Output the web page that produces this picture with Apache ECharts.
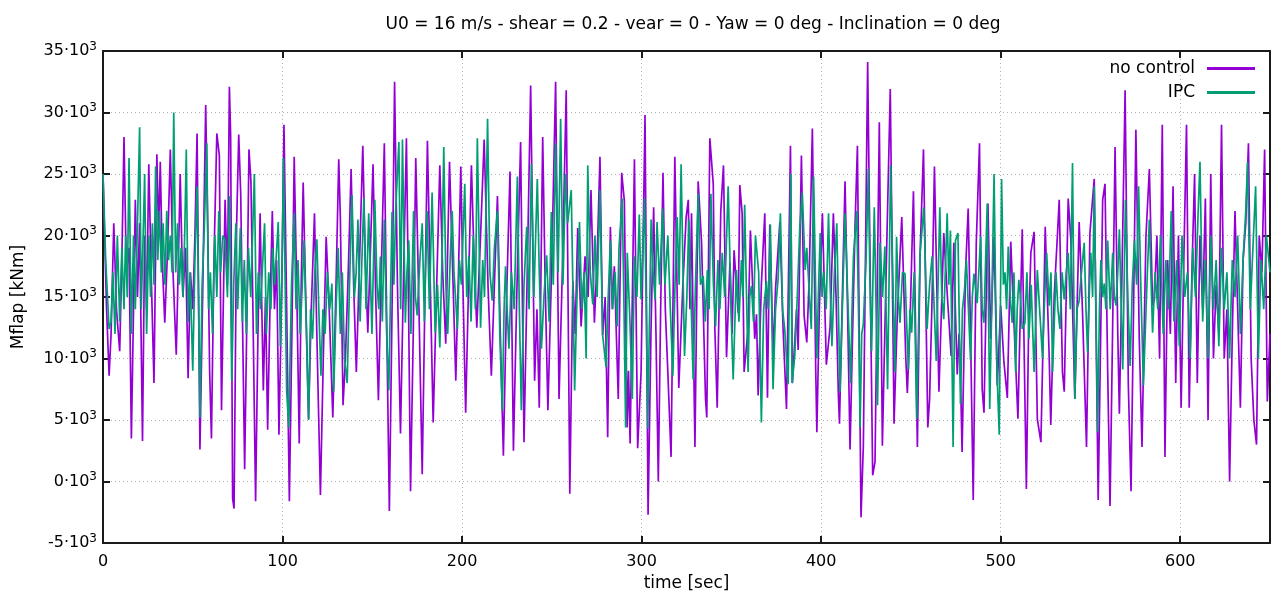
<!DOCTYPE html>
<html>
<head>
<meta charset="utf-8">
<script src="https://cdn.jsdelivr.net/npm/echarts@6/dist/echarts.min.js"></script>
<style>html,body{margin:0;padding:0;background:#fff;}#chart{width:1273px;height:599px;}</style>
</head>
<body>
<div id="chart"></div>
<script>
// [time (sec), Mflap (kNm)]
const noControl = [[0,25000],[2,14000],[3.4,8600],[4.5,12000],[6,21000],[7.5,14000],[9.3,10600],[10.5,18000],[11.7,28000],[13,17000],[14.5,19000],[15.8,3500],[17,14000],[18,22900],[19.2,15000],[20.4,21000],[22,3300],[23.2,20000],[24.3,14000],[25.5,25800],[27,16000],[28.4,8000],[30,26600],[31,20000],[31.9,26000],[33,18000],[34.4,12900],[36,19000],[37.5,27000],[39,17000],[40.8,10300],[42,18000],[43,25000],[44.5,15000],[46,19000],[47.4,8400],[48.7,17000],[50,14000],[51.2,20000],[52.4,28300],[54,2600],[55.5,15000],[57.2,30600],[58.4,20000],[59.4,8900],[60.4,3500],[61.8,18000],[63.4,28300],[64.8,26500],[66,5800],[68,22900],[69.3,16000],[70.4,32100],[71.1,28100],[72.2,-1400],[73,-2200],[74.4,20700],[75.6,28200],[76.7,23400],[78.9,1000],[80.2,14000],[81.3,27000],[82.4,24400],[83.5,14000],[85,-1600],[86.3,12000],[87.5,21800],[89.3,7400],[90.5,15000],[91.7,4200],[93,14000],[94.3,22000],[95.5,14000],[96.7,18000],[98,3800],[99.5,15000],[100.8,29000],[102.3,14000],[103.8,-1600],[105.2,12000],[106.5,26400],[108,15000],[109.3,3100],[110.4,16000],[111.5,24300],[112.6,17000],[114.5,5100],[116,14000],[117.8,21800],[119.1,12000],[121.1,-1100],[122.7,10000],[124.3,19900],[126,14000],[128,5200],[129.8,16000],[131.3,26200],[132.2,21500],[133.7,6200],[135,9900],[136.6,17000],[138.2,25400],[139.6,16000],[141.1,8900],[142.9,18000],[144.7,27300],[146.1,18000],[147.5,12100],[149,19000],[150.4,25800],[151.9,15000],[153.4,6600],[155,17000],[156.7,27500],[158.1,12000],[159.5,-2400],[161,14000],[162.4,32500],[164,16000],[165.7,3900],[167.3,16000],[169,27900],[170.2,14000],[171.3,-800],[172.8,12000],[174.2,26300],[176,14000],[177.8,600],[179.2,14000],[180.7,27700],[182.3,16000],[183.9,4800],[185.7,15000],[187.6,25700],[189.2,17000],[190.9,11200],[193,26000],[195,16000],[196.5,8200],[198,17000],[199.3,25600],[200.6,15000],[202,5600],[203.6,16000],[205.2,25700],[206.7,18000],[208.2,12500],[210.3,20000],[212.3,27800],[214.5,15700],[216.3,8600],[218,16000],[219.7,23200],[221.3,12000],[223,2100],[224.8,15000],[226.7,25200],[228.6,2500],[230.6,16000],[232.6,27600],[234.5,3200],[236.3,17000],[238.2,32200],[240.4,8200],[241.7,14000],[243,6000],[244.9,28000],[246.3,16000],[247.8,5800],[250,18000],[252.1,32500],[254,6700],[256,18000],[258,31800],[260,-1000],[261.7,16300],[263,12000],[264.4,20600],[266.3,12600],[268.5,18300],[270.2,15000],[271.8,23700],[273.7,12900],[275.2,18000],[276.8,26400],[278.3,11900],[279.7,15000],[281.1,3600],[282.6,20700],[283.7,14000],[284.8,17500],[287,6700],[288.9,25100],[290.4,22800],[291.9,4400],[292.7,9000],[293.6,3100],[296,26200],[297.8,2700],[299.7,8900],[301.9,29800],[303.6,-2700],[305.2,12000],[306.7,22300],[308,12000],[309.3,0],[310.6,14000],[311.9,25100],[313.2,14000],[314.6,8900],[316.4,2000],[318.5,26400],[320.7,7600],[322.9,15700],[324.8,21500],[326,22900],[326.9,14000],[327.8,21800],[329.7,2800],[331.5,24400],[333.4,19400],[335.6,6700],[336.3,5200],[338,27900],[339.9,24200],[340.8,12400],[342.1,6000],[344.1,22000],[345.6,25700],[347.3,10100],[349.2,17800],[350.4,12000],[351.5,18800],[353.8,13700],[354.7,24100],[356,21800],[357.1,8900],[359.3,12400],[360.6,20400],[363,11600],[364,13600],[364.9,7000],[366.7,16000],[368.6,21800],[370.1,6800],[371.4,20900],[373.3,10200],[374.6,15700],[377,21100],[378.8,12400],[380.7,5900],[382.9,27300],[384,8000],[386.3,14000],[387.2,10700],[389,26500],[390.5,13500],[392,11300],[393.3,16300],[395.1,28700],[397,8900],[397.6,4000],[399,14000],[400.7,21800],[402.9,9500],[405,12600],[406.8,21800],[408.3,15000],[409.6,7000],[410.2,4700],[411.8,15000],[413.3,24400],[414.7,14000],[416.1,2600],[417.5,12000],[418.9,20900],[420.2,27300],[422.2,-2900],[423.5,2900],[425.9,34100],[427.8,11000],[428.7,500],[430,1600],[432.4,29200],[434.1,2900],[435.9,15100],[438.5,31900],[440.6,4700],[442.4,13400],[444.9,21500],[447.1,10200],[448,7200],[449.5,12900],[451.4,23600],[453.6,2800],[455.1,18500],[457,27000],[459.4,4400],[460.4,6700],[461.8,15000],[463.1,25600],[465.6,7300],[467,14000],[468.3,20200],[470.2,15300],[472.4,10200],[473.9,19400],[474.8,13700],[475.8,8700],[476.8,12000],[477.6,8600],[478.5,2400],[480.4,17000],[481.9,22200],[483.2,12100],[484.7,-1500],[486.4,19400],[488.2,27500],[489.7,7500],[490.7,5600],[492.9,22600],[494.4,11600],[496.3,19900],[498.1,7800],[500,14300],[501.8,9700],[503.7,6800],[505.6,19500],[507,14300],[509.6,5100],[512,20500],[514.3,-600],[515.5,12000],[516.8,18600],[518.6,20300],[520.4,5100],[522.4,3200],[523.7,12000],[524.8,20700],[527,10200],[527.9,4600],[529.8,15100],[531.7,20300],[532.6,22900],[534.4,8900],[535.4,7300],[537.6,23000],[539.1,19600],[541.3,6700],[543.7,21100],[545.6,13700],[547.8,2800],[549.7,20200],[552.1,24600],[554.3,-1500],[555.5,10000],[556.8,22900],[558.1,24200],[559.6,8900],[560.9,-2000],[562.3,12000],[563.7,27200],[565.2,12100],[566.1,5500],[567.7,18000],[569.3,31800],[571.1,7800],[572.6,-800],[574,14000],[575.3,28600],[577.2,11500],[578.7,2800],[580.9,19900],[582.8,25400],[584.6,14300],[585.6,14800],[587,20000],[588.5,10000],[590,29000],[591.5,2000],[593,18000],[594.5,12000],[596,24000],[597.5,8000],[599,20000],[600.5,6000],[602,18000],[603.5,29000],[605,6000],[606.5,17000],[608,25000],[609.5,8000],[611,20000],[612.5,14000],[614,23000],[615.5,5000],[617,25000],[618.5,10000],[620,16000],[621.5,12000],[623,29000],[624.5,10000],[626,14000],[627.5,0],[629,12000],[630.5,22000],[632,14000],[633.5,6000],[635,18000],[636.5,21000],[638,27500],[639.5,10000],[641,5000],[642.5,3000],[644,20000],[645.5,17000],[647,27000],[648.5,6500],[650,12000]];

const ipc = [[0,25000],[1.5,18000],[3.4,12400],[4.5,13000],[5.5,17000],[6.7,12000],[8,20000],[9.3,13000],[10.5,19000],[11.7,14000],[12.6,20000],[13.5,15000],[14.5,26300],[15.8,12000],[17,20000],[18,14000],[19.2,21000],[20.4,28800],[21.3,14000],[22.2,19000],[23.2,25000],[24.3,12000],[25.5,20000],[26.5,15000],[27.5,21000],[28.4,16000],[29.3,25600],[30.5,18000],[31.5,22000],[32.5,17000],[33.5,21000],[34.5,16000],[35.5,22000],[36.5,18000],[37.5,20000],[38.5,17000],[39.4,30000],[40.5,17000],[41.5,21000],[42.5,16000],[43.5,19000],[44.5,15000],[45.5,20000],[46.4,27000],[47.4,13000],[48.5,17000],[50,9000],[51.2,18000],[52.4,24000],[53.3,14000],[54,5200],[55.2,16000],[56.3,20000],[57.8,27500],[58.8,14000],[59.8,17000],[61,12000],[62.3,20000],[63.4,15000],[64.5,22000],[65.5,17000],[66.7,20000],[68,19600],[69.3,15000],[70.5,23200],[71.7,8200],[72.8,16000],[74,21000],[75,14000],[76.5,20600],[77.6,13000],[78.7,18000],[79.8,12000],[81,19000],[82.3,15000],[84.3,25000],[85.5,12000],[86.5,17000],[87.7,14000],[89,18000],[90,21000],[91,12000],[92.3,17000],[93.5,14000],[94.5,19000],[95.6,16000],[97.6,21100],[98.8,11000],[99.8,18000],[100.5,26300],[102.3,7300],[103.5,4400],[105,16000],[106.5,21800],[107.5,14000],[108.6,18000],[109.8,12000],[111,16000],[112,19600],[113.3,12000],[114.5,5000],[115.6,14000],[116.7,11600],[118,17000],[119.1,19700],[120.2,14000],[121.4,8600],[122.5,14000],[123.7,12000],[125,17000],[126.3,14000],[127.5,16100],[128.5,7300],[129.8,14000],[131,19000],[132.2,12000],[133.3,17000],[134.5,10000],[136,8000],[137.3,16000],[138.7,23300],[140,15000],[141,17000],[142,21300],[143.2,13000],[144.2,18000],[145.3,23000],[146.5,14000],[148,21800],[149.8,12000],[151.4,22900],[152.6,16000],[153.6,14000],[154.5,18300],[155.6,13000],[156.7,21300],[158,12000],[159.2,7400],[160,14000],[161,21900],[162,16000],[163,22000],[164.8,27600],[165.8,14000],[166.8,27800],[168.4,12900],[169.3,17000],[170.3,19600],[171.5,12000],[173,22000],[174,15000],[175,13500],[176.5,18000],[177.8,21000],[179,13000],[180.5,22000],[181.8,14000],[183.3,23500],[185,12100],[186.3,16000],[187.6,10900],[188.8,18000],[189.8,27200],[191,16000],[192,12000],[193.5,18600],[194.5,22000],[195.5,17000],[197.4,12400],[198.5,18000],[199.6,16000],[201.5,24200],[202.6,15000],[203.8,18300],[205,13000],[206.2,20000],[207.4,14000],[208.5,27900],[210.3,12500],[211.5,18000],[212.5,15000],[214.2,29500],[215.5,17000],[216.8,14700],[218,19000],[219.7,22000],[221,12000],[222.4,5800],[223.4,14000],[224.2,17500],[225.1,14000],[226.1,10800],[227.5,17000],[229,14000],[230.8,24800],[231.9,14000],[233,5800],[234.5,16000],[236,20700],[237.3,14000],[238.6,25800],[240,15000],[241.9,24600],[243,17000],[244.2,10800],[245.6,15000],[247.1,18400],[248.5,13000],[249.7,21900],[250.8,16000],[252.1,27500],[253.5,17000],[254.9,29500],[256.2,16000],[257.6,25000],[258.8,21000],[260.8,23700],[262.7,7400],[264,15000],[265.4,21100],[266.7,14000],[268,17000],[269.1,10000],[270,25700],[271.4,17000],[272.8,14400],[274,20000],[275.2,15000],[276.8,23700],[278.3,11900],[280.2,9300],[281.4,15000],[282.6,19600],[283.8,14000],[285.2,17000],[286.4,12600],[287.4,19000],[289.2,23000],[290.2,14000],[291.1,4400],[292,18600],[293.5,13000],[294.8,6700],[296,18300],[297.4,15000],[298.7,21700],[299.7,14800],[301.6,23000],[302.5,15000],[303.4,4300],[305.3,21300],[306.4,17000],[307.5,14800],[308.6,21100],[310,16000],[311.7,22200],[313,16000],[314.6,20000],[316,14000],[317.4,8600],[318.6,16000],[319.8,21500],[320.9,16000],[322,25800],[323.9,10200],[325.2,15000],[326.3,21300],[327.5,15000],[328.7,8300],[330,16000],[331.5,23400],[332.8,16000],[334.3,16700],[335.5,13000],[336.6,17200],[337.6,14000],[338.6,23400],[340,16000],[341.2,12600],[342.5,18000],[343.6,14000],[344.9,18600],[346.3,15000],[348.2,24000],[350.1,12600],[351,8300],[352.8,17200],[354.2,13000],[355.6,18000],[356.4,15000],[357.4,22500],[359.3,8900],[360.2,15000],[361.2,15900],[362.3,13000],[363.4,20000],[365.2,17000],[366.7,4800],[368,14000],[369.5,16300],[370.5,14000],[371.7,20900],[373.2,7500],[374.6,14000],[376,16400],[377.3,21800],[378.5,14000],[379.7,12400],[381.6,7900],[383.1,25000],[383.8,8000],[385.3,10200],[386.7,15000],[388.1,20700],[389.5,23500],[391.1,17200],[392,19000],[393,19000],[394.5,12400],[395.8,24800],[397.6,10000],[398.6,16000],[399.5,20200],[400.5,15000],[401.4,17000],[402.8,14000],[404.1,21800],[405,16000],[406,11000],[407.4,17000],[408.7,21000],[409.6,14000],[410.5,7300],[412,15000],[413.3,21800],[414.8,15000],[416.4,8000],[417.2,14000],[418,18300],[419.8,22000],[420.8,14000],[421.7,4400],[422.6,12000],[423.5,12800],[425,18000],[426.3,25400],[427.2,16000],[428.1,10600],[429.6,22300],[430.5,15000],[431.4,6200],[432.8,19400],[434.2,15000],[435.5,19100],[437,7500],[438.7,25700],[440,16000],[441.1,8900],[442,19900],[443,15000],[443.9,12900],[445.3,17000],[446.7,16900],[447.6,13000],[448.6,9100],[449.5,14000],[450.4,12100],[451.8,17000],[453.2,5100],[455.1,18500],[457.2,22300],[459,12400],[460.4,16000],[461.8,18300],[463,14000],[464.1,9800],[466.1,22300],[467.2,15000],[468.3,13200],[470.2,21800],[471.1,16000],[472,20400],[473.5,2800],[474.8,19600],[476.2,20200],[477.6,6300],[478.7,14000],[479.8,15500],[480.9,18000],[481.9,14500],[483.2,9900],[484.2,15000],[485.1,16900],[486.9,14500],[487.8,17000],[488.8,19900],[489.7,14000],[490.7,12900],[491.6,18000],[492.5,22600],[493.9,5900],[495.1,15000],[496.3,25000],[497.2,15000],[498.1,8300],[499.2,3800],[500.5,24600],[501.5,16000],[502.4,17000],[503.3,14000],[504.2,19100],[505.3,15000],[506.4,12900],[507.4,17000],[508.3,8900],[509.2,14000],[510.1,16400],[511,15000],[512,12400],[513.5,12900],[514.6,17000],[515.7,11600],[517,16000],[518.6,8900],[520.4,17200],[521.5,17200],[523.3,10000],[524.5,15000],[525.6,18600],[527,14300],[528,17000],[528.9,8900],[530.8,17000],[531.9,14000],[533,12400],[534.2,17000],[535.4,14800],[536.5,17000],[537.6,18600],[538.8,14000],[540,25900],[541.3,6700],[542.5,14000],[543.7,14700],[545,17000],[546.5,19400],[547.5,14000],[548.4,10500],[549.3,15000],[550.2,18600],[551.2,15000],[552.1,24000],[554,4000],[555,14000],[555.8,18000],[556.8,15000],[557.7,16100],[558.6,14000],[559.6,19600],[561,14000],[562.4,18600],[563.3,15000],[564.3,14300],[565.2,17000],[566.1,20500],[567,15000],[568,9100],[569.5,22900],[570.8,15000],[572.1,9400],[573.3,16000],[574.5,19600],[575.7,16000],[576.8,24000],[578.2,15000],[579.5,7800],[581.2,15000],[582.8,21300],[584.6,12100],[586,17000],[587.5,14000],[589,20000],[590.5,12000],[592,18000],[593.5,14000],[595,22000],[596.5,13000],[598,18000],[599.5,11000],[601,20000],[602.5,15000],[604,17000],[605.5,10000],[607,19000],[608.5,15000],[610,22000],[611,26000],[612.5,13000],[614,18000],[615.5,10000],[617,20000],[618.5,14000],[620,18000],[621.5,11000],[623,19000],[624.5,14000],[626,17000],[627.5,10000],[629,18000],[630.5,15000],[632,20000],[633.5,12000],[635,18000],[636.5,22000],[637.5,26000],[639,14000],[640.5,19000],[642,24000],[643.5,10000],[645,18000],[646.5,14000],[648,20000],[650,17000]];

const seriesNames = ['no control', 'IPC'];
const seriesColors = ['#9400d3', '#009e73'];
const titleText = 'U0 = 16 m/s - shear = 0.2 - vear = 0 - Yaw = 0 deg - Inclination = 0 deg';
const xName = 'time [sec]';
const yName = 'Mflap [kNm]';
const xRange = [0, 650, 100];
const yRange = [-5000, 35000, 5000];

const FONT = 'DejaVu Sans';
const chart = echarts.init(document.getElementById('chart'), null, {renderer: 'canvas'});

const gridLine = {show: true, lineStyle: {color: '#b0b0b0', width: 1, type: [1, 3]}};
const frame = {show: true, onZero: false, lineStyle: {color: '#1a1a1a', width: 2}};
const tick = {show: true, inside: true, length: 7, lineStyle: {color: '#1a1a1a', width: 2}};
const legendText = {fontFamily: FONT, fontSize: 17, color: '#000', padding: [0, 7, 0, 0]};

chart.setOption({
  animation: false,
  backgroundColor: '#fff',
  title: {
    text: titleText, left: 688, top: 11, textAlign: 'center',
    textStyle: {fontFamily: FONT, fontSize: 17, fontWeight: 'normal', color: '#000'}
  },
  legend: [
    {data: [seriesNames[0]], right: 18, top: 60, padding: 0, align: 'right', icon: 'rect', itemWidth: 48, itemHeight: 3,
     textStyle: legendText, selectedMode: false},
    {data: [seriesNames[1]], right: 18, top: 84, padding: 0, align: 'right', icon: 'rect', itemWidth: 48, itemHeight: 3,
     textStyle: legendText, selectedMode: false}
  ],
  grid: {left: 103, right: 3, top: 51, bottom: 56, containLabel: false},
  xAxis: [
    {type: 'value', min: xRange[0], max: xRange[1], interval: xRange[2], position: 'bottom',
     name: xName, nameLocation: 'middle', nameGap: 30,
     nameTextStyle: {fontFamily: FONT, fontSize: 17, color: '#000'},
     axisLine: frame, axisTick: tick,
     axisLabel: {fontFamily: FONT, fontSize: 16, color: '#000', margin: 11, showMaxLabel: false},
     splitLine: gridLine},
    {type: 'value', min: xRange[0], max: xRange[1], interval: xRange[2], position: 'top',
     axisLine: frame, axisTick: tick, axisLabel: {show: false}, splitLine: {show: false}}
  ],
  yAxis: [
    {type: 'value', min: yRange[0], max: yRange[1], interval: yRange[2], position: 'left',
     name: yName, nameLocation: 'middle', nameGap: 76,
     nameTextStyle: {fontFamily: FONT, fontSize: 17, color: '#000'},
     axisLine: frame, axisTick: tick,
     axisLabel: {
       margin: 6,
       formatter: v => '{b|' + (v / 1000) + '·10}{s|3}',
       rich: {
         b: {fontFamily: FONT, fontSize: 16, color: '#000', lineHeight: 21},
         s: {fontFamily: FONT, fontSize: 12, color: '#000', verticalAlign: 'top', lineHeight: 21}
       }
     },
     splitLine: gridLine},
    {type: 'value', min: yRange[0], max: yRange[1], interval: yRange[2], position: 'right',
     axisLine: frame, axisTick: tick, axisLabel: {show: false}, splitLine: {show: false}}
  ],
  series: [
    {name: seriesNames[0], type: 'line', data: noControl, showSymbol: false, symbol: 'none',
     color: seriesColors[0], lineStyle: {color: seriesColors[0], width: 1.7}, z: 2},
    {name: seriesNames[1], type: 'line', data: ipc, showSymbol: false, symbol: 'none',
     color: seriesColors[1], lineStyle: {color: seriesColors[1], width: 1.7}, z: 3}
  ]
});
</script>
</body>
</html>
